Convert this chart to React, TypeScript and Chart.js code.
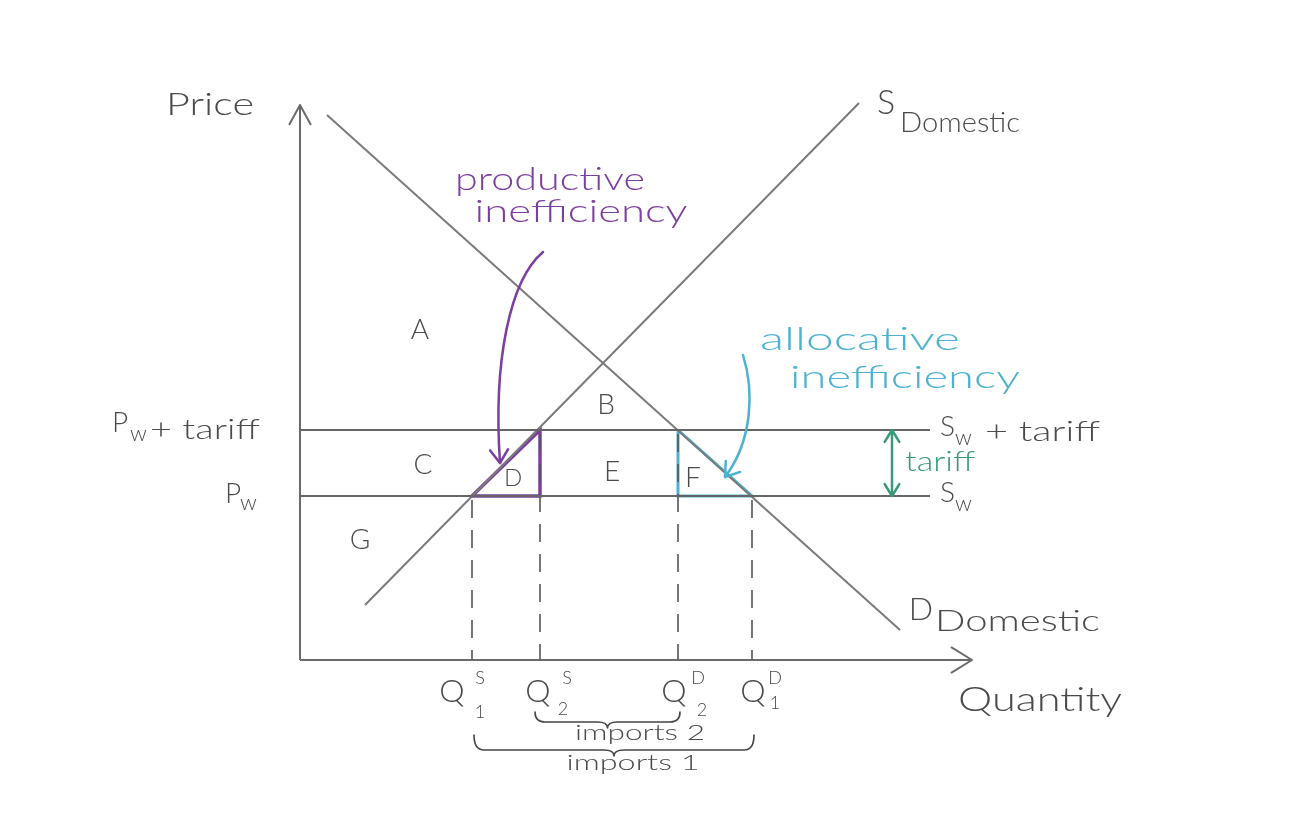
import React, { useEffect, useRef } from "react";
import { Chart, registerables } from "chart.js";

Chart.register(...registerables);

// ---- data (economic units: quantity on x, price on y) ----
const demandQ = [2.7, 60.0];
const demandP = [54.5, 3.0];
const supplyQ = [6.5, 55.9];
const supplyP = [5.5, 55.7];
const worldPrice = 16.4; // Pw
const tariffPrice = 23.0; // Pw + tariff
const priceLineEnd = 63.0;
const axisEndQ = 67.2;
const axisEndP = 55.5;
const qNames = ["Q1s", "Q2s", "Q2d", "Q1d"];
const qValues = [17.2, 24.0, 37.8, 45.2];
const qTickTop = [worldPrice, tariffPrice, tariffPrice, worldPrice];
const areaLetters = ["A", "B", "C", "D", "E", "F", "G"];
const areaQ = [12.0, 30.6, 12.3, 21.3, 31.2, 39.3, 6.0];
const areaP = [33.0, 25.5, 19.5, 18.2, 18.8, 18.2, 12.0];
const tariffArrowQ = 59.2;

// ---- styles ----
const FONT = "Lato, 'Noto Sans', sans-serif";
const GRAY_TEXT = "#4a4a4a";
const GRAY_LINE = "#7a7a7a";
const AXIS = "#6a6a6a";
const PURPLE = "#7b3fa0";
const CYAN = "#4bb2d0";
const GREEN = "#3a9a78";

type Label = { text: string; q: number; p: number; size: number; color?: string; align?: CanvasTextAlign; w?: number };

const labels: Label[] = [
  { text: "Price", q: -9.0, p: 55.5, size: 32, w: 88 },
  { text: "S", q: 58.6, p: 55.7, size: 34 },
  { text: "Domestic", q: 60.0, p: 53.7, size: 27, align: "left", w: 120 },
  { text: "D", q: 62.1, p: 5.0, size: 32 },
  { text: "Domestic", q: 63.5, p: 3.8, size: 29, align: "left", w: 165 },
  { text: "Quantity", q: 65.8, p: -4.0, size: 33, align: "left", w: 164 },
  { text: "productive", q: 25.0, p: 48.0, size: 31, color: PURPLE, w: 190 },
  { text: "inefficiency", q: 28.1, p: 44.8, size: 31, color: PURPLE, w: 213 },
  { text: "allocative", q: 56.0, p: 32.0, size: 31, color: CYAN, w: 200 },
  { text: "inefficiency", q: 60.5, p: 28.2, size: 31, color: CYAN, w: 230 },
  { text: "P", q: -18.8, p: 23.7, size: 28, align: "left" },
  { text: "w", q: -17.0, p: 22.6, size: 22, align: "left" },
  { text: "+ tariff", q: -15.0, p: 23.0, size: 27, align: "left", w: 110 },
  { text: "P", q: -7.5, p: 16.6, size: 28, align: "left" },
  { text: "w", q: -6.0, p: 15.7, size: 22, align: "left" },
  { text: "S", q: 64.0, p: 23.3, size: 28, align: "left" },
  { text: "w", q: 65.5, p: 22.2, size: 22, align: "left" },
  { text: "+ tariff", q: 68.5, p: 22.8, size: 27, align: "left", w: 115 },
  { text: "S", q: 64.0, p: 16.7, size: 28, align: "left" },
  { text: "w", q: 65.5, p: 15.6, size: 22, align: "left" },
  { text: "tariff", q: 60.5, p: 19.8, size: 27, color: GREEN, align: "left", w: 70 },
  { text: "imports 2", q: 34.0, p: -7.3, size: 22, w: 130 },
  { text: "imports 1", q: 33.3, p: -10.3, size: 22, w: 133 },
];

// quantity tick labels: Q with superscript and subscript, offsets from tick value
const qSup = ["S", "S", "D", "D"];
const qSub = ["1", "2", "2", "1"];
const qMainOffset = [-2.0, -0.2, -0.4, 0.1];
const qSupOffset = [0.8, 2.7, 2.0, 2.3];
const qSubOffset = [0.8, 2.3, 2.4, 2.3];
const qSubP = [-5.2, -4.9, -5.0, -4.3];

function line(qs: number[], ps: number[], color: string, width: number, dash: number[] = []) {
  return {
    data: qs.map((q, i) => ({ x: q, y: ps[i] })),
    showLine: true,
    borderColor: color,
    backgroundColor: color,
    borderWidth: width,
    borderDash: dash,
    pointRadius: 0,
    fill: false,
    tension: 0,
  };
}

function head(ctx: CanvasRenderingContext2D, x: number, y: number, ang: number, len: number, spread: number) {
  ctx.beginPath();
  ctx.moveTo(x - len * Math.cos(ang - spread), y - len * Math.sin(ang - spread));
  ctx.lineTo(x, y);
  ctx.lineTo(x - len * Math.cos(ang + spread), y - len * Math.sin(ang + spread));
  ctx.stroke();
}

const overlay = {
  id: "overlay",
  afterDatasetsDraw(chart: any) {
    const ctx: CanvasRenderingContext2D = chart.ctx;
    const X = (q: number) => chart.scales.x.getPixelForValue(q);
    const Y = (p: number) => chart.scales.y.getPixelForValue(p);
    ctx.save();
    ctx.lineCap = "round";
    ctx.lineJoin = "round";

    // axis arrowheads
    ctx.strokeStyle = AXIS;
    ctx.lineWidth = 2;
    head(ctx, X(0), Y(axisEndP), -Math.PI / 2, 22, 0.5);
    head(ctx, X(axisEndQ), Y(0), 0, 24, 0.55);

    // tariff double arrow heads
    ctx.strokeStyle = GREEN;
    ctx.lineWidth = 2.5;
    head(ctx, X(tariffArrowQ), Y(tariffPrice), -Math.PI / 2, 14, 0.55);
    head(ctx, X(tariffArrowQ), Y(worldPrice), Math.PI / 2, 14, 0.55);

    // curved arrows
    const curve = (pts: number[][], color: string) => {
      const [s, c1, c2, e] = pts.map(([q, p]) => [X(q), Y(p)]);
      ctx.strokeStyle = color;
      ctx.lineWidth = 2.5;
      ctx.beginPath();
      ctx.moveTo(s[0], s[1]);
      ctx.bezierCurveTo(c1[0], c1[1], c2[0], c2[1], e[0], e[1]);
      ctx.stroke();
      const ang = Math.atan2(e[1] - c2[1], e[0] - c2[0]);
      head(ctx, e[0], e[1], ang, 16, 0.6);
    };
    curve([[24.3, 40.8], [21.0, 38.0], [19.3, 30.0], [20.0, 19.7]], PURPLE);
    curve([[44.3, 30.5], [45.4, 27.0], [45.3, 22.0], [42.5, 18.3]], CYAN);

    // braces
    const brace = (q1: number, q2: number, pEnd: number, pMain: number, pTip: number) => {
      const x1 = X(q1), x2 = X(q2), xm = (x1 + x2) / 2;
      const ye = Y(pEnd), yl = Y(pMain), yt = Y(pTip);
      const r = 10;
      ctx.strokeStyle = "#444";
      ctx.lineWidth = 1.6;
      ctx.beginPath();
      ctx.moveTo(x1, ye);
      ctx.quadraticCurveTo(x1, yl, x1 + r, yl);
      ctx.lineTo(xm - r, yl);
      ctx.quadraticCurveTo(xm, yl, xm, yt);
      ctx.quadraticCurveTo(xm, yl, xm + r, yl);
      ctx.lineTo(x2 - r, yl);
      ctx.quadraticCurveTo(x2, yl, x2, ye);
      ctx.stroke();
    };
    brace(qValues[1] - 0.5, qValues[2] + 0.2, -5.2, -6.2, -6.8);
    brace(qValues[0] + 0.2, qValues[3] + 0.2, -7.5, -9.0, -9.6);

    // text
    ctx.textBaseline = "middle";
    const txt = (l: Label) => {
      ctx.font = `300 ${l.size}px ${FONT}`;
      ctx.fillStyle = l.color || GRAY_TEXT;
      ctx.textAlign = l.align || "center";
      const x = X(l.q), y = Y(l.p);
      if (l.w) {
        const m = ctx.measureText(l.text).width;
        ctx.save();
        ctx.translate(x, y);
        ctx.scale(l.w / m, 1);
        ctx.fillText(l.text, 0, 0);
        ctx.restore();
      } else {
        ctx.fillText(l.text, x, y);
      }
    };
    labels.forEach(txt);
    areaLetters.forEach((t, i) => txt({ text: t, q: areaQ[i], p: areaP[i], size: t === "D" ? 24 : 28 }));
    qNames.forEach((_, i) => {
      txt({ text: "Q", q: qValues[i] + qMainOffset[i], p: -3.2, size: 32 });
      txt({ text: qSup[i], q: qValues[i] + qSupOffset[i], p: -1.8, size: 18 });
      txt({ text: qSub[i], q: qValues[i] + qSubOffset[i], p: qSubP[i], size: 18 });
    });
    ctx.restore();
  },
};

export default function App() {
  const ref = useRef<HTMLCanvasElement>(null);
  useEffect(() => {
    if (!ref.current) return;
    const datasets: any[] = [
      line([0, 0], [0, axisEndP], AXIS, 2),
      line([0, axisEndQ], [0, 0], AXIS, 2),
      line([0, priceLineEnd], [worldPrice, worldPrice], "#666", 2.2),
      line([0, priceLineEnd], [tariffPrice, tariffPrice], "#666", 2.2),
      line(demandQ, demandP, GRAY_LINE, 2),
      line(supplyQ, supplyP, GRAY_LINE, 2),
      ...qValues.map((q, i) => line([q, q], [qTickTop[i] - 0.4, 0], "#555", 1.6, [18, 12])),
      line([qValues[0], qValues[1], qValues[1], qValues[0]], [worldPrice, tariffPrice, worldPrice, worldPrice], PURPLE, 3.5),
      line([qValues[2], qValues[2], qValues[3], qValues[2]], [tariffPrice, worldPrice, worldPrice, tariffPrice], CYAN, 3),
      line([tariffArrowQ, tariffArrowQ], [tariffPrice, worldPrice], GREEN, 2.5),
    ];
    const chart = new Chart(ref.current, {
      type: "scatter",
      data: { datasets },
      options: {
        responsive: false,
        animation: false,
        layout: { padding: 0 },
        plugins: { legend: { display: false }, tooltip: { enabled: false } },
        scales: {
          x: { type: "linear", min: -30, max: 100, display: false },
          y: { type: "linear", min: -16.6, max: 66, display: false },
        },
        elements: { point: { radius: 0 } },
      },
      plugins: [overlay],
    });
    return () => chart.destroy();
  }, []);
  return (
    <div style={{ position: "absolute", left: 0, top: 0, width: 1300, height: 826, background: "#fff" }}>
      <canvas ref={ref} width={1300} height={826} />
    </div>
  );
}
